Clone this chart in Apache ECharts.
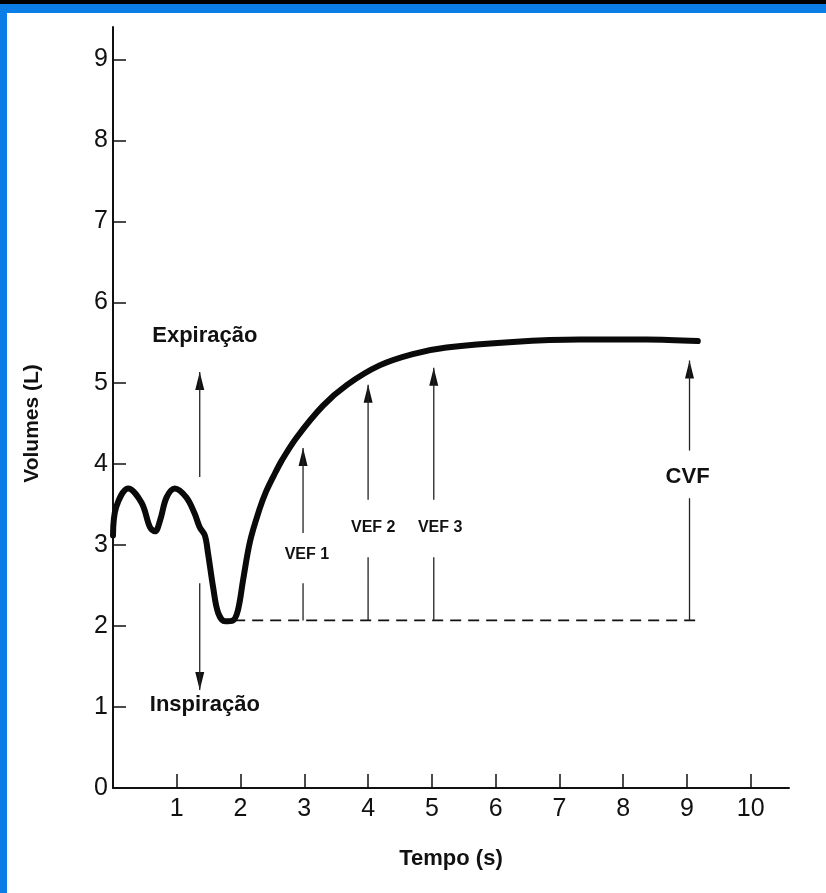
<!DOCTYPE html>
<html><head><meta charset="utf-8">
<script src="https://cdn.jsdelivr.net/npm/echarts@6/dist/echarts.min.js"></script>
<style>html,body{margin:0;padding:0;background:#fff}#c{width:826px;height:893px}</style>
</head><body><div id="c"></div>
<script>
// time (s) and volume (L) of the spirogram curve
const curveT = [0, 0.05, 0.24, 0.45, 0.58, 0.66, 0.74, 0.84, 0.97, 1.15, 1.28, 1.36, 1.44, 1.49, 1.57, 1.65, 1.76, 1.88, 1.96, 2.04, 2.15, 2.3, 2.4, 2.51, 2.65, 2.88, 3.29, 3.67, 4.18, 4.7, 5.23, 6.27, 7.32, 8.37, 9.17];
const curveV = [3.12, 3.47, 3.70, 3.52, 3.22, 3.17, 3.31, 3.59, 3.70, 3.59, 3.39, 3.22, 3.12, 2.90, 2.48, 2.16, 2.06, 2.07, 2.20, 2.57, 3.05, 3.45, 3.66, 3.84, 4.05, 4.33, 4.72, 4.98, 5.22, 5.36, 5.44, 5.51, 5.54, 5.54, 5.52];
// dashed baseline (residual level)
const baseT = [1.9, 9.15];
const baseV = [2.07, 2.07];
// arrows: x position, shaft segments [from,to], tip value
const arrowNames = ['Expiração', 'Inspiração', 'VEF 1', 'VEF 2', 'VEF 3', 'CVF'];
const arrowT = [1.36, 1.36, 2.98, 4.0, 5.03, 9.04];
const arrowLower = [[3.84, 5.14], [2.53, 1.21], [2.07, 2.53], [2.07, 2.85], [2.07, 2.85], [2.07, 3.58]];
const arrowUpper = [null, null, [3.15, 4.20], [3.56, 4.98], [3.56, 5.19], [4.17, 5.28]];
const arrowTip = [5.14, 1.21, 4.20, 4.98, 5.19, 5.28];
// annotation label anchors (data units)
const labelT = [1.44, 1.44, 3.04, 4.08, 5.13, 9.01];
const labelV = [5.59, 1.02, 2.88, 3.22, 3.22, 3.84];
// axis ticks
const xTicks = [1, 2, 3, 4, 5, 6, 7, 8, 9, 10];
const yTicks = [0, 1, 2, 3, 4, 5, 6, 7, 8, 9];

const labelSizes = [22, 22, 16, 16, 16, 22];
const FONT = '"Liberation Sans", Arial, sans-serif';

const shaftData = [];
arrowT.forEach((t, i) => {
  [arrowLower[i], arrowUpper[i]].forEach(seg => {
    if (!seg) return;
    shaftData.push([t, seg[0]], [t, seg[1]], [t, '-']);
  });
});
const tipData = arrowT.map((t, i) => {
  const down = arrowTip[i] < arrowLower[i][0];
  return {
    value: [t, arrowTip[i]],
    symbolRotate: down ? 180 : 0,
    symbolOffset: [0, down ? -9 : 9]
  };
});
const labelData = arrowNames.map((n, i) => ({
  value: [labelT[i], labelV[i]], name: n,
  label: { fontSize: labelSizes[i] }
}));

const chart = echarts.init(document.getElementById('c'), null, { renderer: 'canvas' });
chart.setOption({
  backgroundColor: '#fff',
  animation: false,
  graphic: [
    { type: 'rect', left: 0, top: 0, shape: { width: 826, height: 4 }, style: { fill: '#000' } },
    { type: 'rect', left: 0, top: 4, shape: { width: 826, height: 9 }, style: { fill: '#0a7ee6' } },
    { type: 'rect', left: 0, top: 4, shape: { width: 7, height: 889 }, style: { fill: '#0a7ee6' } }
  ],
  grid: { left: 113, top: 27, width: 676, height: 761, containLabel: false },
  xAxis: {
    type: 'value', min: 0, max: 10.6, interval: 1,
    name: 'Tempo (s)', nameLocation: 'middle', nameGap: 60,
    nameTextStyle: { fontFamily: FONT, fontWeight: 'bold', fontSize: 22, color: '#111' },
    axisLine: { lineStyle: { color: '#111', width: 2 } },
    axisTick: { inside: true, length: 14, customValues: xTicks, lineStyle: { color: '#111', width: 1.5 } },
    axisLabel: { customValues: xTicks, margin: 9, fontFamily: FONT, fontSize: 25, color: '#111' },
    splitLine: { show: false }
  },
  yAxis: {
    type: 'value', min: 0, max: 9.4, interval: 1,
    name: 'Volumes (L)', nameLocation: 'middle', nameGap: 70, nameRotate: 90,
    nameTextStyle: { fontFamily: FONT, fontWeight: 'bold', fontSize: 21, color: '#111', padding: [0, 32, 0, 0] },
    axisLine: { lineStyle: { color: '#111', width: 2 } },
    axisTick: { inside: true, length: 13, customValues: yTicks, lineStyle: { color: '#111', width: 1.5 } },
    axisLabel: { customValues: yTicks, margin: 5, fontFamily: FONT, fontSize: 25, color: '#111' },
    splitLine: { show: false }
  },
  series: [
    {
      type: 'line', data: baseT.map((t, i) => [t, baseV[i]]), showSymbol: false, silent: true,
      lineStyle: { color: '#111', width: 1.6, type: [11, 7] }
    },
    {
      type: 'line', data: shaftData, showSymbol: false, connectNulls: false, silent: true,
      lineStyle: { color: '#222', width: 1.3 }
    },
    {
      type: 'scatter', data: tipData, symbol: 'path://M5,0 L10,20 L0,20 Z', symbolSize: [9, 18],
      itemStyle: { color: '#111', opacity: 1 }, silent: true
    },
    {
      type: 'line', data: curveT.map((t, i) => [t, curveV[i]]), smooth: 0.35, showSymbol: false, silent: true,
      lineStyle: { color: '#0a0a0a', width: 6, cap: 'round', join: 'round' }
    },
    {
      type: 'scatter', data: labelData, symbolSize: 0, silent: true,
      itemStyle: { opacity: 1, color: '#111' },
      label: {
        show: true, position: 'inside', formatter: p => p.name,
        fontFamily: FONT, fontWeight: 'bold', color: '#111'
      }
    }
  ]
});
</script></body></html>
